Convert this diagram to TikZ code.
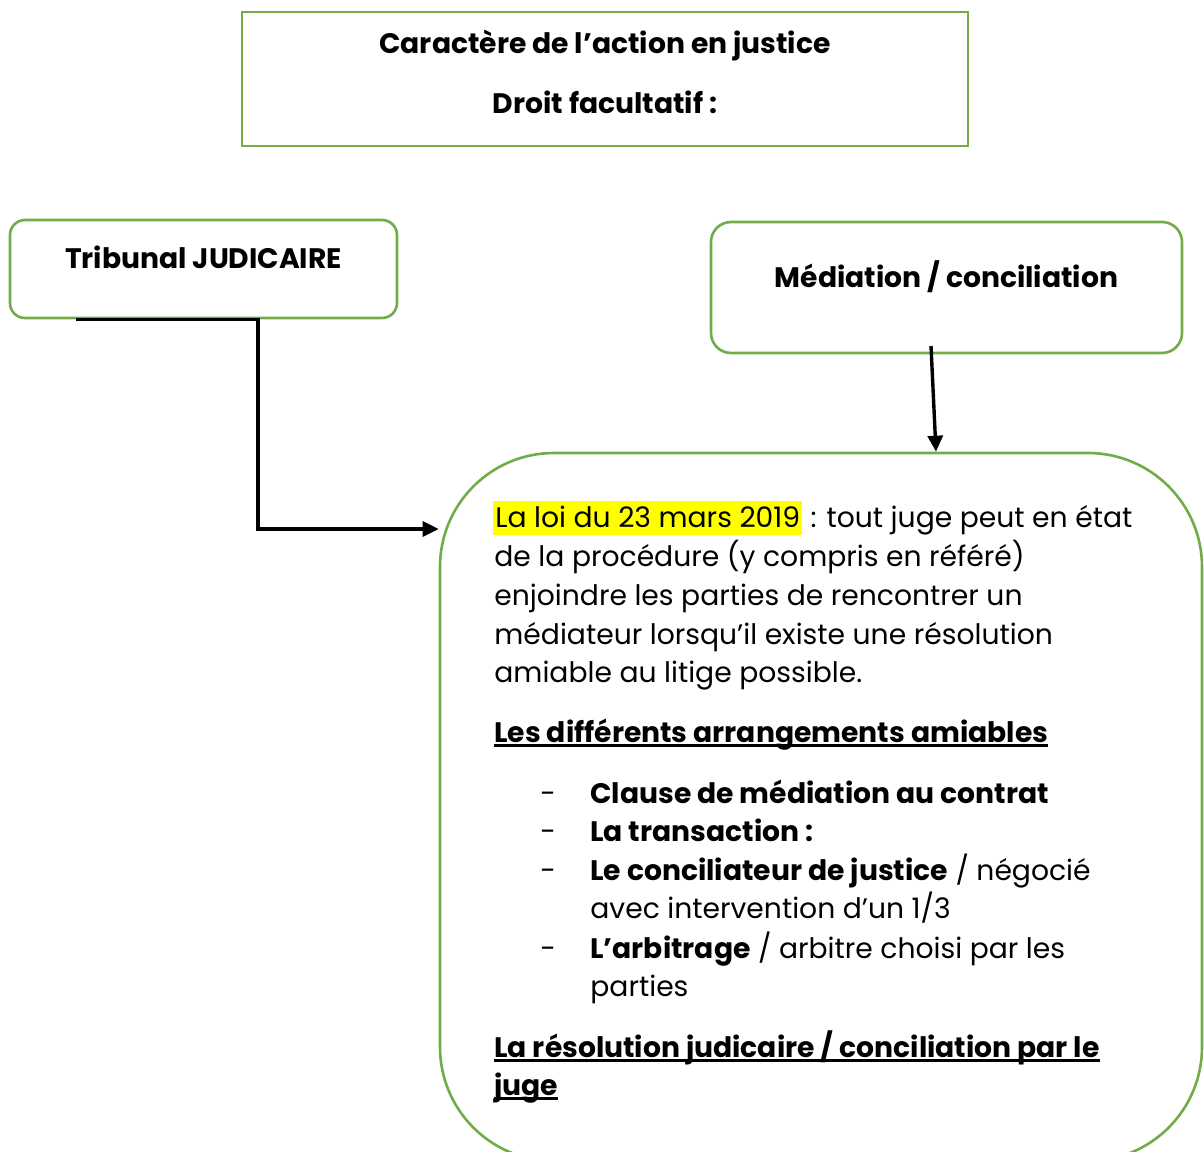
\documentclass[tikz,border=0pt]{standalone}
\usepackage{fontspec}
\setmainfont{Poppins}
\usetikzlibrary{arrows.meta, calc, positioning}
\definecolor{boxgreen}{RGB}{112,173,71}
\definecolor{hiyellow}{RGB}{255,255,0}
\tikzset{
>={Triangle[length=8pt,width=7.5pt]}, % filled arrow heads
frame/.style={draw=boxgreen, line width=1.3pt, inner sep=0pt},
roundframe/.style={frame, rounded corners=#1},
link/.style={line width=1.7pt},
txt/.style={anchor=base west, inner sep=0pt},
title/.style={anchor=base, inner sep=0pt, font=\bodyfont\bfseries},
}
\newcommand{\bodyfont}{\fontsize{14.1}{19}\selectfont}
\newcommand{\uln}[1]{\setbox0\hbox{#1}\rlap{\vrule height -1.2pt depth 2.5pt width \wd0}\box0}

\begin{document}
\begin{tikzpicture}[x=0.5pt, y=-0.5pt, every node/.append style={font=\bodyfont}]
  \useasboundingbox (0,0) rectangle (1204,1151);

  % top box
  \node[frame, minimum width=363pt, minimum height=67pt] (caract) at (605,79) {};
  \node[title] (caracttxt) at (605,53) {Caractère de l’action en justice};
  \node[title] (droittxt) at (605,113) {Droit facultatif :};

  % left box
  \node[roundframe=7.5pt, minimum width=193.5pt, minimum height=49pt] (trib) at (203.5,269) {};
  \node[title] (tribtxt) at (203.5,268) {Tribunal JUDICAIRE};

  % right box
  \node[roundframe=10pt, minimum width=235.5pt, minimum height=65.5pt] (med) at (946.5,287.5) {};
  \node[title] (medtxt) at (946.5,287) {Médiation / conciliation};

  % big box
  \node[roundframe=57pt, minimum width=381pt, minimum height=354pt] (big) at (821,807) {};

  % connectors
  \coordinate (tribfoot) at ($(trib.south west)+(67,0)$);
  \coordinate (elbow) at (258,529);
  \draw[link,->] (tribfoot) -| (elbow) -- (elbow -| big.west);
  \coordinate (medfoot) at (931,346);
  \coordinate (bigtop) at ($(big.north)+(115,0)$);
  \draw[link,->] (medfoot) -- (bigtop);

  % text of the big box
  \node[txt, fill=hiyellow, inner xsep=1pt, inner ysep=0pt, text depth=4pt, text height=13pt] (loi) at (493,527) {La loi du 23 mars 2019};
  \node[txt] (loi2) at (loi.base east) {\ : tout juge peut en état};
  \node[txt] (l2) at (494,566) {de la procédure (y compris en référé)};
  \node[txt] (l3) at (494,605) {enjoindre les parties de rencontrer un};
  \node[txt] (l4) at (494,644) {médiateur lorsqu’il existe une résolution};
  \node[txt] (l5) at (494,682) {amiable au litige possible.};

  \node[txt] (arrang) at (494,742) {\bfseries\uln{Les différents arrangements amiables}};

  \foreach \y in {803,841,880,958}
    \node[txt] (dash\y) at (540,\y) {-};
  \node[txt] (clause) at (590,803) {\bfseries Clause de médiation au contrat};
  \node[txt] (transac) at (590,841) {\bfseries La transaction :};
  \node[txt] (concil) at (590,880) {\textbf{Le conciliateur de justice} / négocié};
  \node[txt] (concil2) at (590,918) {avec intervention d’un 1/3};
  \node[txt] (arbit) at (590,958) {\textbf{L’arbitrage} / arbitre choisi par les};
  \node[txt] (arbit2) at (590,996) {parties};

  \node[txt] (resol) at (494,1057) {\bfseries\uln{La résolution judicaire / conciliation par le}};
  \node[txt] (resol2) at (494,1095) {\bfseries\uln{juge}};
\end{tikzpicture}
\end{document}
